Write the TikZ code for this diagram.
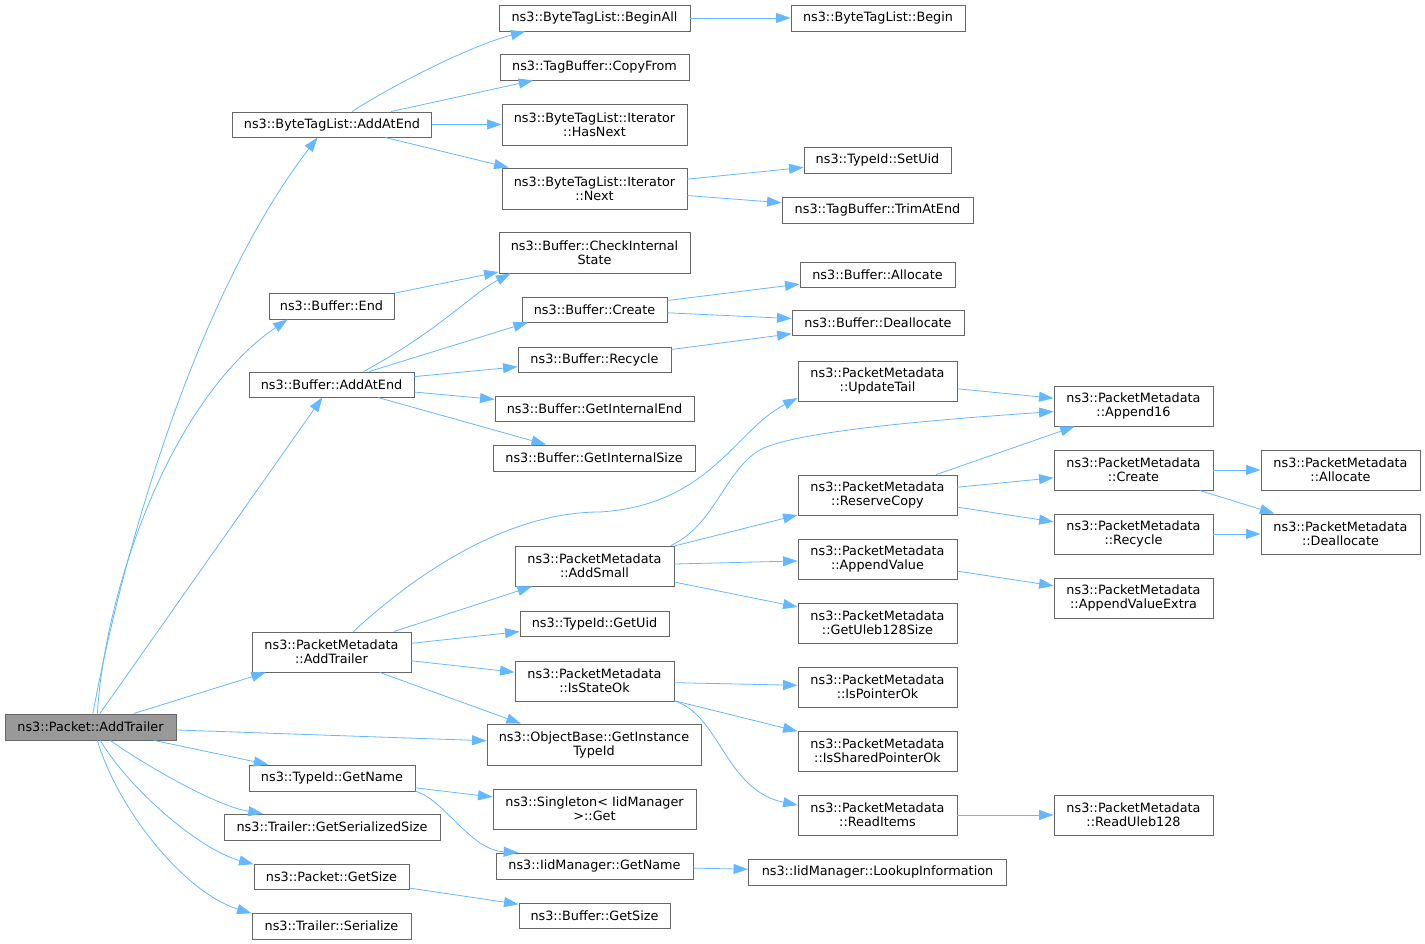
\documentclass[tikz,border=0pt]{standalone}
\usepackage{fontspec}
\newfontfamily\graphfont{DejaVu Sans}
\usetikzlibrary{arrows.meta}
\definecolor{callcolor}{HTML}{63B8FF}
\definecolor{boxline}{HTML}{666666}
\definecolor{rootfill}{HTML}{999999}
\tikzset{
  fn/.style={draw=boxline, line width=0.9pt, fill=white, inner sep=0pt, align=center,
    font=\graphfont\fontsize{12.8}{14}\selectfont},
  call/.style={->, draw=callcolor, line width=0.8pt},
  >={Triangle[length=14.5pt,width=10pt]}
}
\begin{document}
\begin{tikzpicture}[x=1pt,y=1pt]
\useasboundingbox (0,0) rectangle (1425,944);

\node[fn, fill=rootfill, minimum width=171pt, minimum height=26pt] (root) at (90.5,217) {ns3::Packet::AddTrailer};

\foreach \nm/\px/\py/\ww/\hh/\txt in {
  btlAddAtEnd/332/819.5/199/25/ns3::ByteTagList::AddAtEnd,
  bufEnd/331.5/638/125/26/ns3::Buffer::End,
  bufAddAtEnd/331.5/559.5/165/25/ns3::Buffer::AddAtEnd,
  pmAddTrailer/331.5/292/159/40/ns3::PacketMetadata\\::AddTrailer,
  tidGetName/332/166/166/26/ns3::TypeId::GetName,
  trGetSerSize/332/117/216/26/ns3::Trailer::GetSerializedSize,
  pktGetSize/331.5/67.5/155/25/ns3::Packet::GetSize,
  trSerialize/331.5/18/159/26/ns3::Trailer::Serialize}
  \node[fn, minimum width=\ww pt, minimum height=\hh pt] (\nm) at (\px,\py) {\txt};

\foreach \nm/\px/\py/\ww/\hh/\txt in {
  btlBeginAll/594.5/926/191/26/ns3::ByteTagList::BeginAll,
  tbCopyFrom/594.5/877/189/26/ns3::TagBuffer::CopyFrom,
  itHasNext/594.5/819.5/185/41/ns3::ByteTagList::Iterator\\::HasNext,
  itNext/594.5/755.5/185/41/ns3::ByteTagList::Iterator\\::Next,
  bufCheck/594.5/691.5/191/41/ns3::Buffer::CheckInternal\\State,
  bufCreate/594.5/634.5/145/25/ns3::Buffer::Create,
  bufRecycle/594.5/584.5/153/25/ns3::Buffer::Recycle,
  bufIntEnd/594.5/535.5/199/25/ns3::Buffer::GetInternalEnd,
  bufIntSize/594/486/202/26/ns3::Buffer::GetInternalSize,
  pmAddSmall/594.5/378/159/40/ns3::PacketMetadata\\::AddSmall,
  tidGetUid/594.5/320.5/149/25/ns3::TypeId::GetUid,
  pmIsStateOk/594.5/263/159/40/ns3::PacketMetadata\\::IsStateOk,
  obGetTid/594/199.5/214/41/ns3::ObjectBase::GetInstance\\TypeId,
  sgGet/594.5/135/203/40/ns3::Singleton< IidManager\\>::Get,
  iidGetName/594.5/78/197/26/ns3::IidManager::GetName,
  bufGetSize/594.5/28.5/151/25/ns3::Buffer::GetSize}
  \node[fn, minimum width=\ww pt, minimum height=\hh pt] (\nm) at (\px,\py) {\txt};

\foreach \nm/\px/\py/\ww/\hh/\txt in {
  btlBegin/878/926/174/26/ns3::ByteTagList::Begin,
  tidSetUid/877.5/784/147/26/ns3::TypeId::SetUid,
  tbTrimAtEnd/877.5/734/191/26/ns3::TagBuffer::TrimAtEnd,
  bufAllocate/877.5/669.5/155/25/ns3::Buffer::Allocate,
  bufDeallocate/878/621.5/172/25/ns3::Buffer::Deallocate,
  pmUpdateTail/877.5/563/159/40/ns3::PacketMetadata\\::UpdateTail,
  pmReserveCopy/877.5/449/159/40/ns3::PacketMetadata\\::ReserveCopy,
  pmAppendValue/877.5/385/159/40/ns3::PacketMetadata\\::AppendValue,
  pmGetUleb/877.5/321/159/40/ns3::PacketMetadata\\::GetUleb128Size,
  pmIsPointerOk/877.5/257/159/40/ns3::PacketMetadata\\::IsPointerOk,
  pmIsSharedPointerOk/877.5/193/159/40/ns3::PacketMetadata\\::IsSharedPointerOk,
  pmReadItems/877.5/129/159/40/ns3::PacketMetadata\\::ReadItems,
  iidLookup/877.5/72/258/26/ns3::IidManager::LookupInformation,
  pmAppend16/1133.5/538/159/40/ns3::PacketMetadata\\::Append16,
  pmCreate/1133.5/474/159/40/ns3::PacketMetadata\\::Create,
  pmRecycle/1133.5/410/159/40/ns3::PacketMetadata\\::Recycle,
  pmAppendValueExtra/1133.5/346/159/40/ns3::PacketMetadata\\::AppendValueExtra,
  pmReadUleb128/1133.5/129/159/40/ns3::PacketMetadata\\::ReadUleb128,
  pmAllocate/1340.5/474/159/40/ns3::PacketMetadata\\::Allocate,
  pmDeallocate/1340.5/410/159/40/ns3::PacketMetadata\\::Deallocate}
  \node[fn, minimum width=\ww pt, minimum height=\hh pt] (\nm) at (\px,\py) {\txt};

\foreach \from/\to in {
  root/bufAddAtEnd, root/pmAddTrailer, root/obGetTid, root/tidGetName,
  btlAddAtEnd/tbCopyFrom, btlAddAtEnd/itHasNext, btlAddAtEnd/itNext,
  btlBeginAll/btlBegin, itNext/tidSetUid, itNext/tbTrimAtEnd,
  bufEnd/bufCheck, bufAddAtEnd.19/bufCreate.191, bufAddAtEnd/bufRecycle,
  bufAddAtEnd/bufIntEnd, bufAddAtEnd/bufIntSize,
  bufCreate/bufAllocate, bufCreate/bufDeallocate, bufRecycle/bufDeallocate,
  pmAddTrailer/pmAddSmall, pmAddTrailer/tidGetUid, pmAddTrailer/pmIsStateOk,
  pmAddTrailer.337/obGetTid.164,
  pmUpdateTail/pmAppend16, pmAddSmall/pmReserveCopy, pmAddSmall/pmAppendValue,
  pmAddSmall/pmGetUleb, pmReserveCopy/pmAppend16, pmReserveCopy/pmCreate,
  pmReserveCopy/pmRecycle, pmCreate/pmAllocate, pmCreate/pmDeallocate,
  pmRecycle/pmDeallocate, pmAppendValue/pmAppendValueExtra,
  pmIsStateOk/pmIsPointerOk, pmIsStateOk/pmIsSharedPointerOk,
  pmReadItems/pmReadUleb128,
  tidGetName/sgGet, iidGetName/iidLookup, pktGetSize/bufGetSize}
  \draw[call] (\from) -- (\to);

\draw[call] (root.80) .. controls (125,404) and (200,654) .. (btlAddAtEnd.222);
\draw[call] (root.63) .. controls (105,354) and (170,544) .. (bufEnd.197);
\draw[call] (root.326) .. controls (140,182) and (215,138) .. (trGetSerSize.169);
\draw[call] (root.306) .. controls (130,154) and (200,94) .. (pktGetSize.171);
\draw[call] (root.297) .. controls (118,134) and (185,51) .. (trSerialize.171);

\draw[call] (btlAddAtEnd.33) .. controls (395,860) and (470,898) .. (btlBeginAll.191);
\draw[call] (bufAddAtEnd.22) .. controls (440,614) and (470,649) .. (bufCheck.194);

\draw[call] (pmAddTrailer.43) .. controls (420,374) and (510,432) .. (600,432)
  .. controls (710,439) and (735,514) .. (pmUpdateTail.192);
\draw[call] (pmAddSmall.15) .. controls (715,419) and (725,474) .. (760,494)
  .. controls (795,514) and (960,526) .. (pmAppend16.184);
\draw[call] (pmIsStateOk.-14) .. controls (720,229) and (725,154) .. (pmReadItems.173);
\draw[call] (tidGetName.-9) .. controls (445,144) and (470,94) .. (iidGetName.170);
\end{tikzpicture}
\end{document}
